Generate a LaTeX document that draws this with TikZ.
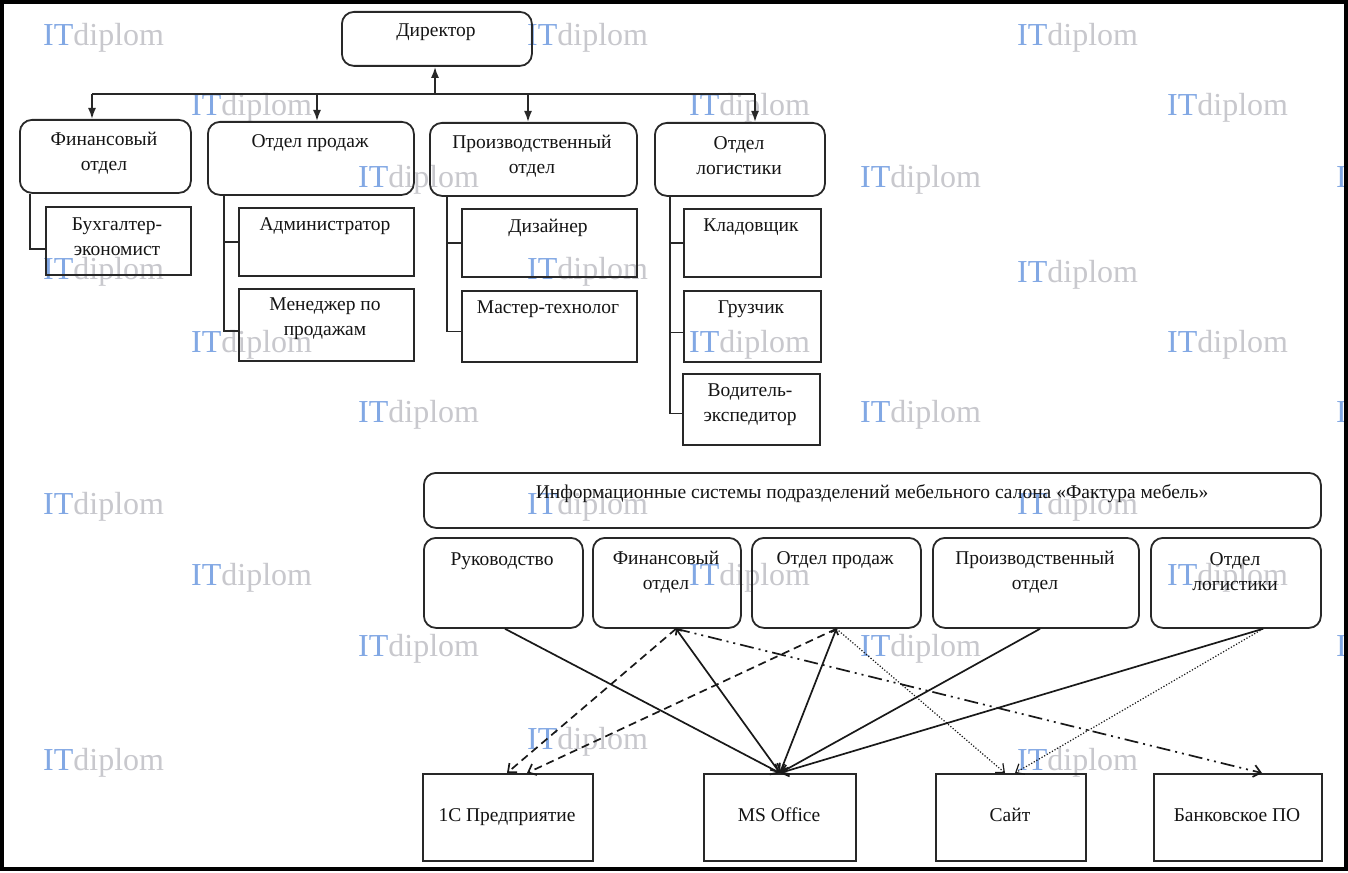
\documentclass[tikz,border=0pt]{standalone}
\usepackage{fontspec}
\setmainfont{Liberation Serif}
\usetikzlibrary{arrows.meta,calc}
\definecolor{wmblue}{RGB}{130,168,228}
\definecolor{wmgrey}{RGB}{200,200,205}
\definecolor{boxline}{RGB}{40,40,40}
\begin{document}
\begin{tikzpicture}[x=1pt,y=-1pt,
  rbox/.style={draw=boxline, line width=1.8pt, rounded corners=12pt, anchor=north west, inner sep=0pt},
  sbox/.style={draw=boxline, line width=1.8pt, anchor=north west, inner sep=0pt},
  txt/.style={font=\fontsize{19.5}{25}\selectfont, align=center, inner sep=0pt, text=black!92},
  wm/.style={font=\fontsize{32}{32}\selectfont, inner sep=0pt, anchor=west},
  conn/.style={line width=1.8pt, draw=boxline},
  toparrow/.style={conn, -{Latex[length=11pt,width=8pt]}},
  link/.style={line width=1.7pt, draw=black!90, -{Straight Barb[length=7pt,width=12pt]}},
  blink/.style={line width=1.7pt, draw=black!90, {Straight Barb[length=4pt,width=8pt]}-{Straight Barb[length=7pt,width=12pt]}},
  dlink/.style={link, dash pattern=on 8pt off 5pt},
  ddlink/.style={link, dash pattern=on 14pt off 5pt on 2pt off 5pt on 2pt off 5pt},
  tlink/.style={link, line width=1.2pt, dash pattern=on 1.2pt off 1.8pt}
]
\useasboundingbox (0,0) rectangle (1348,872);
\clip (0,0) rectangle (1348,872);
\fill[white] (0,0) rectangle (1348,872);

% watermarks
\foreach \x/\y in {43/38,527/38,1017/38,191/108,689/108,1167/108,358/180,860/180,1336/180,
  43/272,527/272,1017/275,191/345,689/345,1167/345,358/415,860/415,1336/415,
  43/507,527/507,1017/507,191/578,689/578,1167/578,358/649,860/649,1336/649,
  43/763,527/742,1017/763}
  \node[wm, name=wm-\x-\y] at (\x,\y) {\textcolor{wmblue}{IT}\textcolor{wmgrey}{diplom}};

% ===== top org chart =====
\node[rbox, minimum width=190pt, minimum height=54pt] (dir) at (341,11) {};
\node[txt] (dirT) at (436,32) {Директор};

\node[rbox, minimum width=171pt, minimum height=73pt] (fin) at (19,119) {};
\node[txt] (finT) at (104,153) {Финансовый\\отдел};
\node[rbox, minimum width=206pt, minimum height=73pt] (sal) at (207,121) {};
\node[txt] (salT) at (310,143) {Отдел продаж};
\node[rbox, minimum width=207pt, minimum height=73pt] (pro) at (429,122) {};
\node[txt] (proT) at (532,156) {Производственный\\отдел};
\node[rbox, minimum width=170pt, minimum height=73pt] (log) at (654,122) {};
\node[txt] (logT) at (739,156) {Отдел\\логистики};

\node[sbox, minimum width=145pt, minimum height=68pt] (buh) at (45,206) {};
\node[txt] (buhT) at (117,237) {Бухгалтер-\\экономист};
\node[sbox, minimum width=175pt, minimum height=68pt] (adm) at (238,207) {};
\node[txt] (admT) at (325,226) {Администратор};
\node[sbox, minimum width=175pt, minimum height=72pt] (men) at (238,288) {};
\node[txt] (menT) at (325,319) {Менеджер по\\продажам};
\node[sbox, minimum width=175pt, minimum height=68pt] (diz) at (461,208) {};
\node[txt] (dizT) at (548,228) {Дизайнер};
\node[sbox, minimum width=175pt, minimum height=71pt] (mas) at (461,290) {};
\node[txt] (masT) at (548,309) {Мастер-технолог};
\node[sbox, minimum width=137pt, minimum height=68pt] (kla) at (683,208) {};
\node[txt] (klaT) at (751,227) {Кладовщик};
\node[sbox, minimum width=137pt, minimum height=71pt] (gru) at (683,290) {};
\node[txt] (gruT) at (751,309) {Грузчик};
\node[sbox, minimum width=137pt, minimum height=71pt] (vod) at (682,373) {};
\node[txt] (vodT) at (750,405) {Водитель-\\экспедитор};

% bus
\coordinate (bus) at (435,94);
\coordinate (finA) at ($(fin.north west)+(73,0)$);
\coordinate (salA) at ($(sal.north west)+(110,0)$);
\coordinate (proA) at ($(pro.north west)+(99,0)$);
\coordinate (logA) at ($(log.north west)+(101,0)$);
\draw[toparrow] (bus) -- (bus |- dir.south);
\draw[conn] (bus -| finA) -- (bus -| logA);
\draw[toparrow] (bus -| finA) -- (finA);
\draw[toparrow] (bus -| salA) -- (salA);
\draw[toparrow] (bus -| proA) -- (proA);
\draw[toparrow] (bus -| logA) -- (logA);

% subordinate connectors
\draw[conn] ($(fin.south west)+(11,0)$) |- ($(buh.west)+(0,8)$);
\draw[conn] ($(sal.south west)+(17,0)$) |- (adm.west);
\draw[conn] ($(sal.south west)+(17,0)$) |- ($(men.west)+(0,6)$);
\draw[conn] ($(pro.south west)+(18,0)$) |- (diz.west);
\draw[conn] ($(pro.south west)+(18,0)$) |- ($(mas.west)+(0,5)$);
\draw[conn] ($(log.south west)+(16,0)$) |- (kla.west);
\draw[conn] ($(log.south west)+(16,0)$) |- ($(gru.west)+(0,6)$);
\draw[conn] ($(log.south west)+(16,0)$) |- ($(vod.west)+(0,4)$);

% ===== bottom IS diagram =====
\node[rbox, minimum width=897pt, minimum height=55pt] (hdr) at (423,472) {};
\node[txt] (hdrT) at (872,494) {Информационные системы подразделений мебельного салона «Фактура мебель»};

\node[rbox, minimum width=159pt, minimum height=90pt] (ruk) at (423,537) {};
\node[txt] (rukT) at (502,561) {Руководство};
\node[rbox, minimum width=148pt, minimum height=90pt] (fin2) at (592,537) {};
\node[txt] (fin2T) at (666,572) {Финансовый\\отдел};
\node[rbox, minimum width=169pt, minimum height=90pt] (sal2) at (751,537) {};
\node[txt] (sal2T) at (835,560) {Отдел продаж};
\node[rbox, minimum width=206pt, minimum height=90pt] (pro2) at (932,537) {};
\node[txt] (pro2T) at (1035,572) {Производственный\\отдел};
\node[rbox, minimum width=170pt, minimum height=90pt] (log2) at (1150,537) {};
\node[txt] (log2T) at (1235,572) {Отдел\\логистики};

\node[sbox, minimum width=170pt, minimum height=87pt] (onec) at (422,773) {};
\node[txt] (onecT) at (507,817) {1С Предприятие};
\node[sbox, minimum width=152pt, minimum height=87pt] (ms) at (703,773) {};
\node[txt] (msT) at (779,815) {MS Office};
\node[sbox, minimum width=150pt, minimum height=87pt] (site) at (935,773) {};
\node[txt] (siteT) at (1010,815) {Сайт};
\node[sbox, minimum width=168pt, minimum height=87pt] (bank) at (1153,773) {};
\node[txt] (bankT) at (1237,815) {Банковское ПО};

\coordinate (rukS) at ($(ruk.south west)+(82,0)$);
\coordinate (finS) at ($(fin2.south west)+(84,0)$);
\coordinate (salS) at (sal2.south);
\coordinate (proS) at ($(pro2.south west)+(108,0)$);
\coordinate (logS) at ($(log2.south west)+(113,0)$);
\coordinate (onecA) at ($(onec.north west)+(85,0)$);
\coordinate (onecB) at ($(onec.north west)+(105,0)$);
\coordinate (siteA) at ($(site.north west)+(70,0)$);
\coordinate (siteB) at ($(site.north west)+(80,0)$);
\coordinate (bankA) at ($(bank.north west)+(109,0)$);

\draw[link] (rukS) -- (ms.north);
\draw[dlink] (finS) -- (onecA);
\draw[blink] (finS) -- (ms.north);
\draw[ddlink] (finS) -- (bankA);
\draw[dlink] (salS) -- (onecB);
\draw[blink] (salS) -- (ms.north);
\draw[tlink] (salS) -- (siteA);
\draw[link] (proS) -- (ms.north);
\draw[link] (logS) -- (ms.north);
\draw[tlink] (logS) -- (siteB);

% frame
\draw[line width=4pt, black] (2,2) rectangle (1346,869);
\end{tikzpicture}
\end{document}
